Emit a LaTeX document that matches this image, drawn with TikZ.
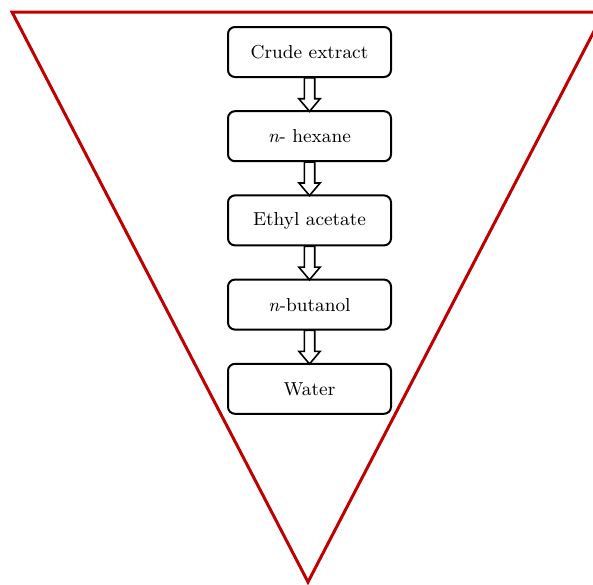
\documentclass[tikz,border=0pt]{standalone}
\usepackage{tikz}
\usetikzlibrary{positioning,calc,shapes.arrows}
\usepackage{xcolor}
\definecolor{funnelred}{HTML}{C00000}

\begin{document}
\begin{tikzpicture}[
    solvent/.style={draw, line width=1pt, minimum width=81.5pt, minimum height=25pt, align=center, rounded corners=3.5pt, font=\fontsize{9.4}{11}\selectfont},
    flow/.style={draw, line width=0.8pt, single arrow, rotate=-90, anchor=tail, inner sep=0pt, text height=4.4pt, text depth=0pt, minimum height=16.8pt, single arrow head extend=2.7pt, single arrow tip angle=80}
]
\useasboundingbox (0pt,0pt) rectangle (296.5pt,-292pt);

% Funnel
\draw[funnelred, line width=1.5pt, miter limit=20] (6pt,-6pt) -- (302pt,-6pt) -- (154pt,-291pt) -- cycle;

% Fractions
\node[solvent] (crude) at (154.75pt,-26pt) {Crude extract};
\node[solvent, below=16.1pt of crude] (hexane) {\textit{n}- hexane};
\node[solvent, below=16.1pt of hexane] (ethyl) {Ethyl acetate};
\node[solvent, below=16.1pt of ethyl] (butanol) {\textit{n}-butanol};
\node[solvent, below=16.1pt of butanol] (water) {Water};

% Arrows
\node[flow] (f1) at ([yshift=0.5pt]crude.south) {};
\node[flow] (f2) at ([yshift=0.5pt]hexane.south) {};
\node[flow] (f3) at ([yshift=0.5pt]ethyl.south) {};
\node[flow] (f4) at ([yshift=0.5pt]butanol.south) {};
\end{tikzpicture}
\end{document}
